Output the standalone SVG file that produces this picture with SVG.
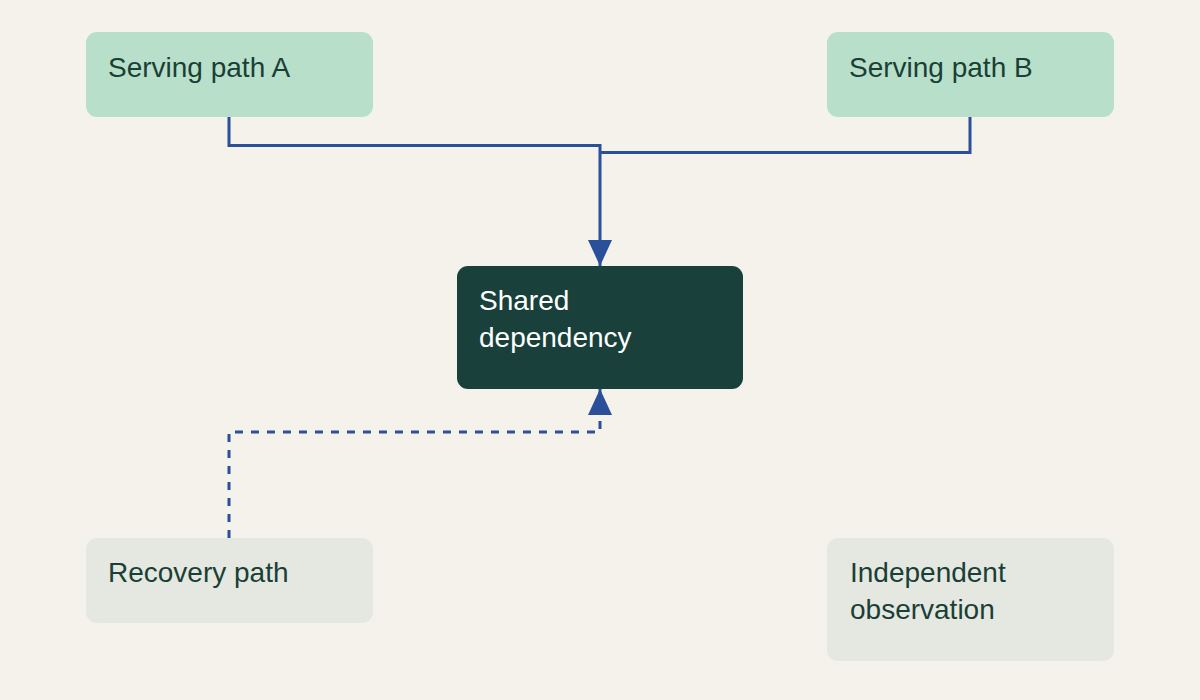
<svg xmlns="http://www.w3.org/2000/svg" width="1200" height="700" viewBox="0 0 1200 700">
  <defs>
    <marker id="arrow" viewBox="0 0 26 24" refX="26" refY="12" markerWidth="26" markerHeight="24" markerUnits="userSpaceOnUse" orient="auto">
      <path d="M0,0 L26,12 L0,24 Z" fill="#2a5099"/>
    </marker>
    <style>
      .label { font-family: "Liberation Sans", Arial, sans-serif; font-size: 28px; fill: #1a3f36; }
      .label-light { font-family: "Liberation Sans", Arial, sans-serif; font-size: 28px; fill: #ffffff; }
      .serving { fill: #b8dfc9; }
      .muted { fill: #e5e8e0; }
      .core { fill: #19403a; }
      .edge { fill: none; stroke: #2a5099; stroke-width: 3; }
      .edge-dashed { fill: none; stroke: #2a5099; stroke-width: 3; stroke-dasharray: 8 8; }
    </style>
  </defs>
  <rect width="1200" height="700" fill="#f5f2eb"/>

  <g id="connectors">
    <polyline class="edge" points="229,117 229,145.5 600,145.5 600,266" marker-end="url(#arrow)"/>
    <polyline class="edge" points="970,117 970,152.5 600,152.5"/>
    <polyline class="edge-dashed" points="229,538 229,432 600,432 600,389" marker-end="url(#arrow)"/>
  </g>

  <g id="serving-path-a">
    <rect class="serving" x="86" y="32" width="287" height="85" rx="11"/>
    <text class="label" x="108" y="77">Serving path A</text>
  </g>

  <g id="serving-path-b">
    <rect class="serving" x="827" y="32" width="287" height="85" rx="11"/>
    <text class="label" x="849" y="77">Serving path B</text>
  </g>

  <g id="shared-dependency">
    <rect class="core" x="457" y="266" width="286" height="123" rx="11"/>
    <text class="label-light" x="479" y="310">Shared</text>
    <text class="label-light" x="479" y="347">dependency</text>
  </g>

  <g id="recovery-path">
    <rect class="muted" x="86" y="538" width="287" height="85" rx="11"/>
    <text class="label" x="108" y="582">Recovery path</text>
  </g>

  <g id="independent-observation">
    <rect class="muted" x="827" y="538" width="287" height="123" rx="11"/>
    <text class="label" x="850" y="582">Independent</text>
    <text class="label" x="850" y="619">observation</text>
  </g>
</svg>
